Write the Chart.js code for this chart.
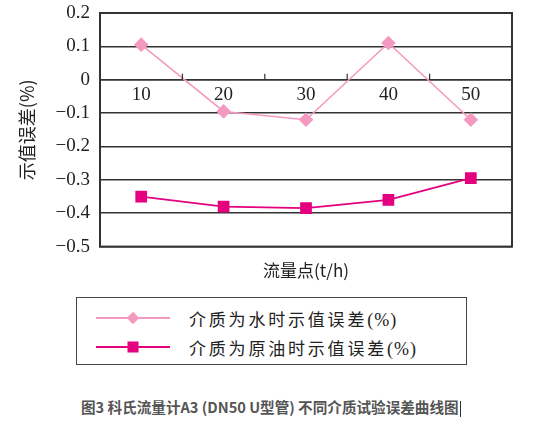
<!DOCTYPE html>
<html>
<head>
<meta charset="utf-8">
<script src="https://cdn.jsdelivr.net/npm/chart.js@4.4.1/dist/chart.umd.min.js"></script>
<style>
  html,body{margin:0;padding:0;background:#fff;}
  body{width:537px;height:426px;position:relative;overflow:hidden;}
  #wrap{position:absolute;left:0;top:0;width:537px;height:285px;}
  .legend{position:absolute;left:76px;top:297px;width:389px;height:66px;border:1.5px solid #444;box-sizing:content-box;}
  .row{position:absolute;left:0;height:26px;display:flex;align-items:center;}
  .sample{position:relative;width:74px;height:2px;margin-left:19px;}
  .mk{position:absolute;left:50%;top:50%;}
  .txt{margin-left:19px;font-family:"Noto Sans CJK SC";font-size:17px;letter-spacing:2.8px;color:#222;}
  .txt span{font-family:"Liberation Serif";font-size:18px;letter-spacing:1px;}
  .cap{position:absolute;left:81px;top:396px;font-family:"Noto Sans CJK SC";font-weight:bold;font-size:14.6px;color:#555;white-space:nowrap;}
  .cap i{display:inline-block;width:1px;height:16px;background:#333;vertical-align:middle;margin-left:1px;}
</style>
</head>
<body>
<div id="wrap"><canvas id="c"></canvas></div>

<div class="legend">
  <div class="row" style="top:7px">
    <div class="sample" id="s1"><div class="mk" id="m1"></div></div>
    <div class="txt">介质为水时示值误差<span>(%)</span></div>
  </div>
  <div class="row" style="top:36px">
    <div class="sample" id="s2"><div class="mk" id="m2"></div></div>
    <div class="txt">介质为原油时示值误差<span>(%)</span></div>
  </div>
</div>
<div class="cap">图3 科氏流量计A3 (DN50 U型管) 不同介质试验误差曲线图<i></i></div>

<script>
const categories = ['10','20','30','40','50'];
const waterErr = [0.105, -0.095, -0.12, 0.11, -0.12];
const oilErr = [-0.35, -0.38, -0.385, -0.36, -0.295];
const seriesNames = ['介质为水时示值误差(%)','介质为原油时示值误差(%)'];
const yTicks = [0.2, 0.1, 0, -0.1, -0.2, -0.3, -0.4, -0.5];

const waterColor = '#f49ac1';
const oilColor = '#e4007f';
const gridColor = '#333';

// legend samples
const s1 = document.getElementById('s1'), m1 = document.getElementById('m1');
s1.style.background = waterColor;
Object.assign(m1.style,{width:'9px',height:'9px',background:waterColor,transform:'translate(-50%,-50%) rotate(45deg)'});
const s2 = document.getElementById('s2'), m2 = document.getElementById('m2');
s2.style.background = oilColor;
Object.assign(m2.style,{width:'11px',height:'11px',background:oilColor,transform:'translate(-50%,-50%)'});

const fmt = v => {
  const r = Math.round(v*10)/10;
  return r < 0 ? '\u2212' + Math.abs(r) : String(r);
};

// frame around plot + small upward ticks on the zero line between categories
const framePlugin = {
  id:'frame',
  afterDraw(chart){
    const {ctx, chartArea:a, scales} = chart;
    ctx.save();
    ctx.strokeStyle = gridColor;
    ctx.lineWidth = 2;
    ctx.strokeRect(a.left, a.top, a.right-a.left, a.bottom-a.top);
    const y0 = scales.y.getPixelForValue(0);
    ctx.lineWidth = 1.2;
    for(let i=1;i<categories.length;i++){
      const x = (scales.x.getPixelForValue(i-1)+scales.x.getPixelForValue(i))/2;
      ctx.beginPath(); ctx.moveTo(x,y0); ctx.lineTo(x,y0-6); ctx.stroke();
    }
    ctx.restore();
  }
};

Chart.defaults.font.family = 'Liberation Serif';
Chart.defaults.font.size = 19;
Chart.defaults.color = '#222';
const cjk = {family:'Noto Sans CJK SC', size:17};

new Chart(document.getElementById('c'), {
  type:'line',
  data:{
    labels:categories,
    datasets:[
      {label:seriesNames[0], data:waterErr, borderColor:waterColor, backgroundColor:waterColor,
       borderWidth:1.6, pointStyle:'rectRot', pointRadius:6.2, pointHoverRadius:6.2, tension:0},
      {label:seriesNames[1], data:oilErr, borderColor:oilColor, backgroundColor:oilColor,
       borderWidth:1.8, pointStyle:'rect', pointRadius:7, pointHoverRadius:7, tension:0}
    ]
  },
  options:{
    responsive:true,
    maintainAspectRatio:false,
    animation:false,
    layout:{padding:{left:5,right:25,top:13,bottom:4}},
    plugins:{legend:{display:false}, tooltip:{enabled:false}},
    scales:{
      x:{
        type:'category',
        position:{y:0},
        offset:true,
        grid:{display:false,drawTicks:false,tickLength:0},
        border:{display:true,color:gridColor,width:1.5},
        ticks:{padding:4,maxRotation:0}
      },
      xt:{
        type:'category',
        position:'bottom',
        labels:categories,
        grid:{display:false},
        border:{display:false},
        ticks:{display:false},
        title:{display:true,text:'流量点(t/h)',font:cjk,padding:{top:6,bottom:0}}
      },
      y:{
        min:-0.5, max:0.2,
        afterBuildTicks(s){ s.ticks = yTicks.map(v=>({value:v})); },
        afterFit(s){ s.width = 95; s.paddingTop = 0; s.paddingBottom = 0; },
        grid:{color:gridColor,lineWidth:1.5,drawTicks:false},
        border:{display:true,color:gridColor,width:2},
        ticks:{padding:10,callback:fmt},
        title:{display:true,text:'示值误差(%)',font:{family:'Noto Sans CJK SC',size:18},padding:{top:11,bottom:0}}
      }
    }
  },
  plugins:[framePlugin]
});
</script>
</body>
</html>
